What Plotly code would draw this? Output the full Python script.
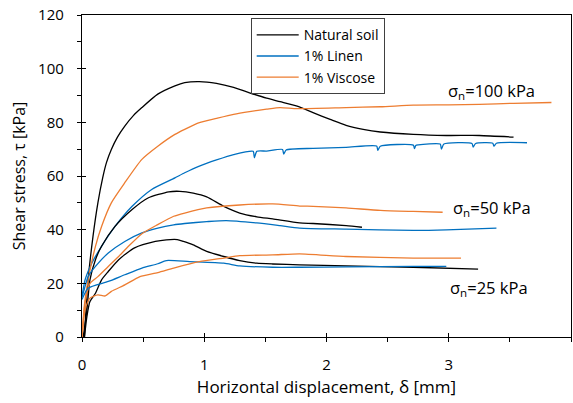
import plotly.graph_objects as go

# ---------------- data ----------------
nat100_x = [0.02, 0.03, 0.05, 0.09, 0.13, 0.17, 0.2, 0.24, 0.29, 0.35, 0.42, 0.49, 0.62, 0.76, 0.84,
            0.96, 1.1, 1.24, 1.37, 1.51, 1.62, 1.76, 1.89, 2.03, 2.16, 2.3, 2.44, 2.71, 2.98, 3.25, 3.53]
nat100_y = [0, 8, 21.3, 37.5, 50, 59.5, 65, 69.9, 74.5, 78.6, 82.5, 85.5, 90.5, 93.6, 94.8,
            95.2, 94.5, 93, 91, 89, 87.7, 86, 83.6, 81.1, 78.9, 77.4, 76.4, 75.5, 75.1, 75.1, 74.5]

vis100_x = [0.0, 0.02, 0.05, 0.11, 0.16, 0.24, 0.35, 0.49, 0.62, 0.76, 0.84, 0.96, 1.1, 1.24, 1.37,
            1.51, 1.62, 1.76, 2.16, 2.44, 2.71, 3.0, 3.25, 3.53, 3.84]
vis100_y = [0, 12, 21.3, 33.8, 41.2, 50, 57.5, 66.2, 71.1, 75.5, 77.4, 79.9, 81.5, 83, 84,
            84.9, 85.5, 85.1, 85.5, 85.8, 86.4, 86.5, 86.7, 87.1, 87.4]

lin100_x = [0, 0.025, 0.08, 0.16, 0.27, 0.41, 0.57, 0.76, 0.84, 0.96, 1.1, 1.24, 1.40, 1.41, 1.43,
            1.51, 1.64, 1.65, 1.67, 1.89, 2.16, 2.41, 2.42, 2.44, 2.71, 2.72, 2.73, 2.75, 2.93,
            2.94, 2.96, 3.19, 3.2, 3.22, 3.36, 3.37, 3.39, 3.64]
lin100_y = [15, 21.3, 27.5, 33.8, 41.2, 48.7, 55, 59.3, 61.2, 63.7, 66, 68, 69.2, 66.8, 69.2,
            69.3, 69.9, 68.2, 69.7, 70.3, 70.7, 71.2, 69.6, 71.1, 71.5, 70.2, 71.4, 71.6, 71.9,
            70.0, 71.9, 72.1, 70.8, 72.1, 72.2, 71.1, 72.2, 72.4]

nat50_x = [0.01, 0.04, 0.065, 0.11, 0.16, 0.27, 0.41, 0.54, 0.71, 0.8, 0.91, 1.02, 1.16, 1.29,
           1.43, 1.56, 1.78, 1.89, 2.16, 2.29]
nat50_y = [0, 10, 21.3, 28.8, 33.8, 41.2, 47.5, 51.8, 54.1, 54.3, 53.6, 52.2, 48.7, 46.2,
           44.8, 44, 42.5, 42.3, 41.5, 40.9]

lin50_x = [0, 0.02, 0.05, 0.11, 0.215, 0.35, 0.49, 0.62, 0.75, 0.84, 1.02, 1.18, 1.43, 1.62,
           1.78, 2.16, 2.71, 2.98, 3.39]
lin50_y = [15, 18, 22.5, 26.3, 31.3, 35.6, 38.8, 40.6, 41.8, 42.3, 43, 43.4, 42.5, 41.5,
           40.6, 40.2, 39.7, 39.9, 40.6]

vis50_x = [0, 0.025, 0.065, 0.13, 0.215, 0.3, 0.38, 0.49, 0.62, 0.75, 0.84, 1.02, 1.29, 1.56,
           1.78, 1.89, 2.16, 2.44, 2.71, 2.95]
vis50_y = [0, 12.6, 20, 22.5, 26.3, 30, 33.8, 38.5, 41.9, 45, 46.2, 48.1, 49.2, 49.6,
           48.8, 48.7, 48.1, 47.2, 46.8, 46.5]

nat25_x = [0.02, 0.04, 0.065, 0.11, 0.16, 0.215, 0.3, 0.43, 0.6, 0.69, 0.78, 0.83, 0.91, 1.02,
           1.16, 1.29, 1.43, 1.56, 1.78, 2.16, 2.71, 3.24]
nat25_y = [0, 7.6, 13.2, 16.3, 21.3, 24.4, 28.8, 33.2, 35.6, 36.2, 36.3, 35.6, 34.3, 31.9,
           30, 28.5, 27.5, 27.2, 26.9, 26.5, 26, 25.3]

lin25_x = [0, 0.05, 0.215, 0.35, 0.49, 0.62, 0.69, 0.88, 1.16, 1.29, 1.56, 1.78, 2.16, 2.71, 2.98]
lin25_y = [14, 18.2, 20.7, 23.2, 25.7, 27.3, 28.5, 28.1, 27.5, 26.5, 26, 26, 26.1, 26.3, 26.3]

vis25_x = [0, 0.025, 0.065, 0.13, 0.19, 0.24, 0.35, 0.474, 0.62, 0.75, 0.96, 1.16, 1.29, 1.56,
           1.78, 2.16, 2.71, 3.1]
vis25_y = [0, 10, 14.5, 15.7, 15.3, 17, 19.4, 22.5, 24.0, 25.7, 28.1, 29.4, 30.3, 30.6,
           31, 30, 29.4, 29.4]

series_names = ["Natural soil", "1% Linen", "1% Viscose"]
annot_texts = ["σ<sub>n</sub>=100 kPa", "σ<sub>n</sub>=50 kPa", "σ<sub>n</sub>=25 kPa"]
annot_x = [2.98, 3.02, 2.99]
annot_y = [91.5, 48.0, 18.2]

x_ticks = [0, 1, 2, 3, 4]
y_ticks = [0, 20, 40, 60, 80, 100, 120]

# ---------------- styling ----------------
COL = {"Natural soil": "#000000", "1% Linen": "#0070C0", "1% Viscose": "#ED7D31"}
FONT = "'Open Sans', Lato, sans-serif"

curves = [
    ("Natural soil", nat100_x, nat100_y, True),
    ("1% Linen", lin100_x, lin100_y, True),
    ("1% Viscose", vis100_x, vis100_y, True),
    ("Natural soil", nat50_x, nat50_y, False),
    ("1% Linen", lin50_x, lin50_y, False),
    ("1% Viscose", vis50_x, vis50_y, False),
    ("Natural soil", nat25_x, nat25_y, False),
    ("1% Linen", lin25_x, lin25_y, False),
    ("1% Viscose", vis25_x, vis25_y, False),
]

fig = go.Figure()
for name, xs, ys, show in curves:
    fig.add_trace(go.Scatter(
        x=xs, y=ys, mode="lines", name=name, legendgroup=name, showlegend=show,
        line=dict(color=COL[name], width=1.3, shape="spline", smoothing=0.6),
    ))

# dummy trace to activate overlay axes used for inside (cross) ticks
fig.add_trace(go.Scatter(x=[None], y=[None], xaxis="x2", yaxis="y2",
                         showlegend=False, hoverinfo="skip"))

for t, xa, ya in zip(annot_texts, annot_x, annot_y):
    fig.add_annotation(x=xa, y=ya, text=t, showarrow=False, xanchor="left",
                       yanchor="middle", font=dict(family=FONT, size=16.5, color="#000"))

axis_common = dict(showgrid=False, zeroline=False, showline=True, linecolor="black",
                   linewidth=1.3, mirror=True, ticks="outside", ticklen=4, tickwidth=1.3,
                   tickcolor="black", tickfont=dict(family=FONT, size=15, color="#000"))

fig.update_layout(
    width=573, height=403,
    margin=dict(l=82, r=2, t=15, b=66),
    plot_bgcolor="white", paper_bgcolor="white",
    font=dict(family=FONT, color="#000"),
    xaxis=dict(range=[0, 4], tickvals=x_ticks, ticklabelstandoff=10,
               minor=dict(dtick=0.5, ticks="outside", ticklen=4, tickwidth=1.3, tickcolor="black"),
               title=dict(text="Horizontal displacement, δ [mm]", font=dict(family=FONT, size=17),
                          standoff=7),
               **axis_common),
    yaxis=dict(range=[0, 120], tickvals=y_ticks, ticklabelstandoff=10,
               minor=dict(dtick=10, ticks="outside", ticklen=4, tickwidth=1.3, tickcolor="black"),
               title=dict(text="Shear stress, τ [kPa]", font=dict(family=FONT, size=16),
                          standoff=8),
               **axis_common),
    xaxis2=dict(range=[0, 4], overlaying="x", anchor="y2", side="bottom", tickvals=x_ticks,
                showticklabels=False, ticks="inside", ticklen=4, tickwidth=1.3, tickcolor="black",
                showgrid=False, zeroline=False, showline=False),
    yaxis2=dict(range=[0, 120], overlaying="y", anchor="x2", side="left", tickvals=y_ticks,
                showticklabels=False, ticks="inside", ticklen=4, tickwidth=1.3, tickcolor="black",
                showgrid=False, zeroline=False, showline=False),
    legend=dict(x=0.345, y=0.99, xanchor="left", yanchor="top", bgcolor="white",
                bordercolor="#404040", borderwidth=1, font=dict(family=FONT, size=14),
                tracegroupgap=0, itemwidth=42),
    showlegend=True,
)

fig.write_html("out.html")
